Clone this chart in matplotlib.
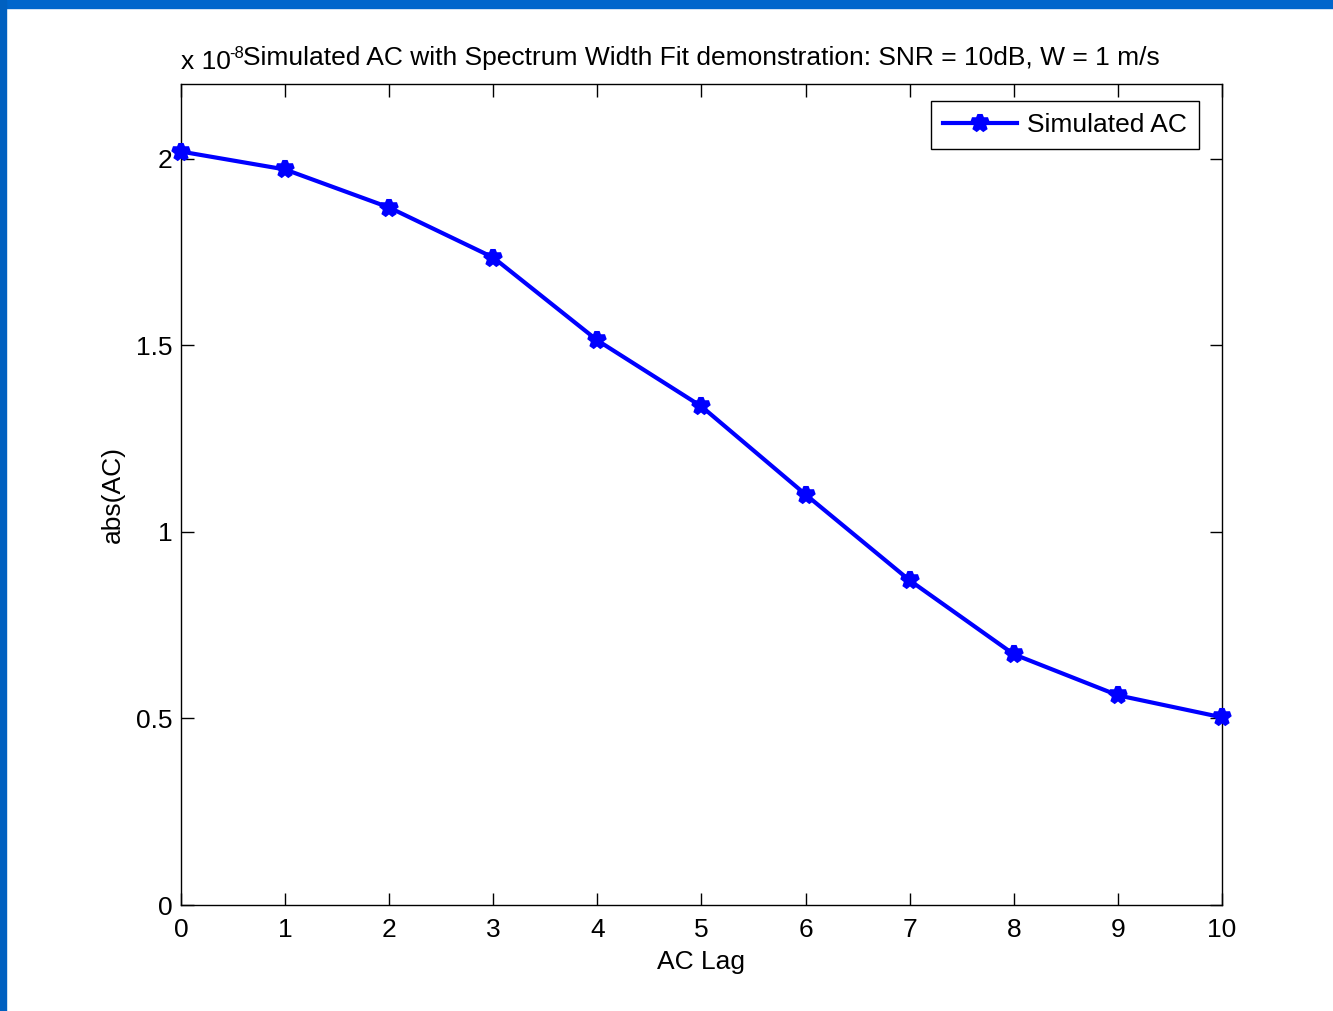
import matplotlib.pyplot as plt
import matplotlib.patches as mpatches
import numpy as np

plt.rcParams['font.family'] = ['Liberation Sans', 'DejaVu Sans']

lags = np.arange(11)
ac = [2.019, 1.971, 1.869, 1.735, 1.513, 1.336, 1.100, 0.870, 0.672, 0.562, 0.503]
xticks = list(range(11))
yticks = [0, 0.5, 1, 1.5, 2]

fig = plt.figure(figsize=(13.33, 10.11), dpi=100)
fig.patch.set_facecolor('white')

# slide frame (blue strips on top and left)
fig.patches.append(mpatches.Rectangle((0, 1 - 8 / 1011), 1, 8 / 1011, transform=fig.transFigure,
                                      color='#0066cc', zorder=0))
fig.patches.append(mpatches.Rectangle((0, 0), 6 / 1333, 1, transform=fig.transFigure,
                                      color='#0060c0', zorder=0))

ax = fig.add_axes([0.1358, 0.1048, 0.7809, 0.8121])
ax.plot(lags, ac, color='#0000ff', linewidth=3, marker='*', markersize=12,
        markeredgewidth=4, label='Simulated AC', clip_on=False, zorder=3)

ax.set_xlim(0, 10)
ax.set_ylim(0, 2.2)
ax.set_xticks(xticks)
ax.set_yticks(yticks)
ax.set_yticklabels(['0', '0.5', '1', '1.5', '2'])
ax.tick_params(direction='in', top=True, right=True, length=9, width=1,
               labelsize=19, pad=9)
ax.tick_params(axis='y', pad=6)
for s in ax.spines.values():
    s.set_linewidth(1)

ax.set_xlabel('AC Lag', fontsize=19, labelpad=6)
ax.set_ylabel('abs(AC)', fontsize=19, labelpad=8)
ax.set_title('Simulated AC with Spectrum Width Fit demonstration: SNR = 10dB, W = 1 m/s',
             fontsize=19, pad=14)
ax.text(0.0, 1.012, 'x 10', transform=ax.transAxes, fontsize=19,
        ha='left', va='bottom')
ax.text(0.046, 1.028, '-8', transform=ax.transAxes, fontsize=12,
        ha='left', va='bottom')

leg = ax.legend(loc='upper right', bbox_to_anchor=(0.978, 0.979), fontsize=19,
                fancybox=False, framealpha=1, edgecolor='black', handlelength=2.8,
                borderpad=0.45, handletextpad=0.4, borderaxespad=0)
leg.get_frame().set_linewidth(1)

fig.savefig('out.png', dpi=100)
